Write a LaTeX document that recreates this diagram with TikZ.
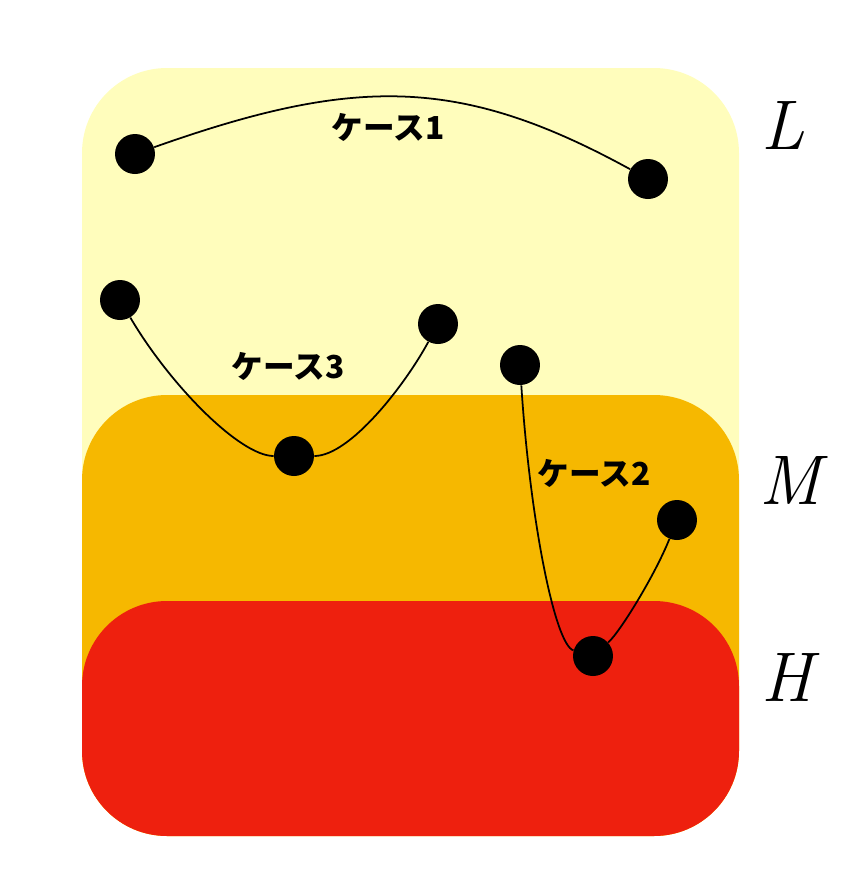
\documentclass[tikz,border=0pt]{standalone}
\usepackage{fontspec}
\usepackage{tikz}
\usetikzlibrary{positioning}
\newfontfamily\jpfont{Noto Sans CJK JP}
\definecolor{lowband}{HTML}{FFFDBC}
\definecolor{midband}{HTML}{F6B800}
\definecolor{highband}{HTML}{EE200E}

\begin{document}
\begin{tikzpicture}[
        x=0.02cm, y=-0.02cm,
        pt/.style    = {draw=none, circle, fill=black, minimum size=0.8cm, inner sep=0pt},
        band/.style  = {rounded corners=1.7cm},
        lbl/.style   = {font=\jpfont\bfseries\fontsize{18}{21}\selectfont},
        lvl/.style   = {font=\itshape\fontsize{40}{44}\selectfont},
        cv/.style    = {black, line width=1pt},
    ]
        \useasboundingbox (0,0) rectangle (860,894);

        % ---- bandas: L / M / H ----
        \fill[band, lowband]  (82,68)  rectangle (739,836);
        \fill[band, midband]  (82,395) rectangle (739,836);
        \fill[band, highband] (82,601) rectangle (739,836);

        % ---- niveles ----
        \node (lvL) [lvl] at (783,125) {L};
        \node (lvM) [lvl] at (790,480) {M};
        \node (lvH) [lvl] at (787,677) {H};

        % ---- puntos ----
        \node (a1) [pt] at (135,154) {};
        \node (a2) [pt] at (648,179) {};
        \node (c1) [pt] at (120,300) {};
        \node (c2) [pt] at (294,456) {};
        \node (c3) [pt] at (438,324) {};
        \node (b1) [pt] at (520,365) {};
        \node (b2) [pt] at (593,656) {};
        \node (b3) [pt] at (677,520) {};

        % ---- caso 1 ----
        \draw[cv] (a1) .. controls (355,76) and (460,76) .. (a2);
        \node (t1) [lbl] at (388,127) {ケース1};

        % ---- caso 3 ----
        \draw[cv] (c1) .. controls (170,385) and (240,456) .. (c2);
        \draw[cv] (c2) .. controls (350,456) and (405,385) .. (c3);
        \node (t3) [lbl] at (288,366) {ケース3};

        % ---- caso 2 ----
        \draw[cv] (b1) .. controls (530,520) and (555,645) .. (b2);
        \draw[cv] (b2) .. controls (620,632) and (655,575) .. (b3);
        \node (t2) [lbl] at (594,473) {ケース2};
    \end{tikzpicture}
\end{document}
